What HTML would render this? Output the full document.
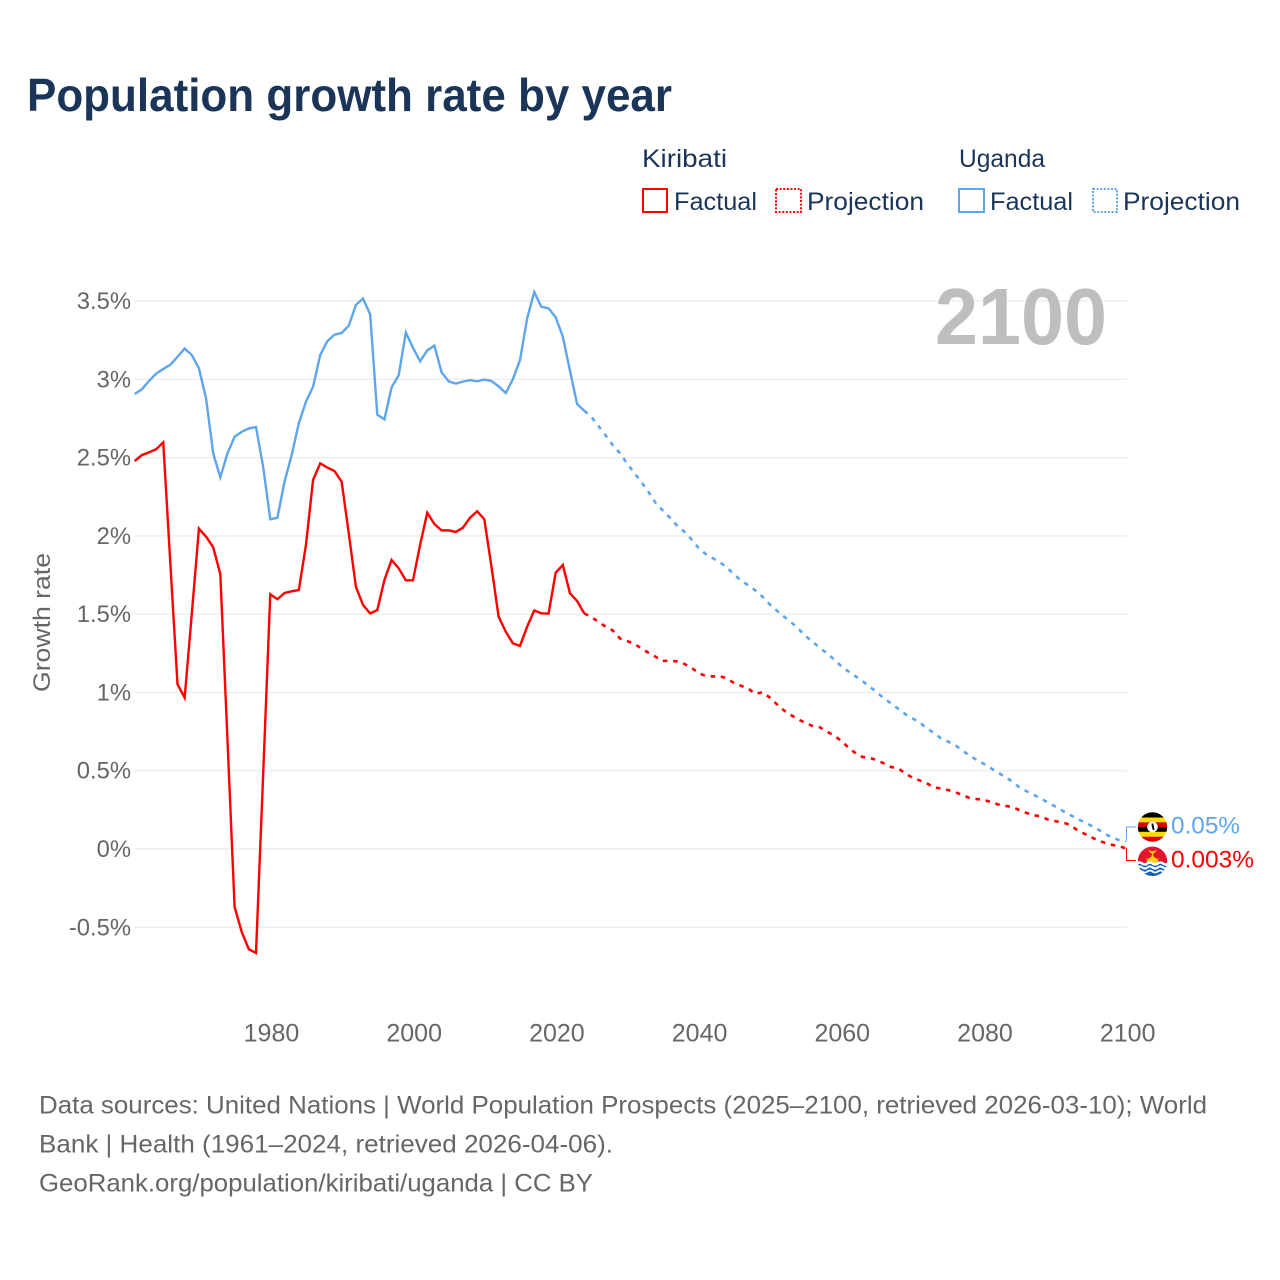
<!DOCTYPE html>
<html lang="en">
<head>
<meta charset="utf-8">
<title>Population growth rate by year</title>
<style>
html,body{margin:0;padding:0;background:#fff;}
svg{display:block;font-family:"Liberation Sans",sans-serif;}
.legend-text{font-size:25px;fill:#1a3557;}
.foot{font-size:25px;fill:#666;}
</style>
</head>
<body>
<svg id="chart" xmlns="http://www.w3.org/2000/svg" width="1280" height="1280" viewBox="0 0 1280 1280">
  <rect x="0" y="0" width="1280" height="1280" fill="#fff"/>
  <text x="27" y="111" font-size="46" font-weight="700" fill="#1a3557" textLength="645" lengthAdjust="spacingAndGlyphs">Population growth rate by year</text>

  <g>
    <text class="legend-text" x="642" y="167" textLength="85" lengthAdjust="spacingAndGlyphs">Kiribati</text>
    <text class="legend-text" x="959" y="167" textLength="86" lengthAdjust="spacingAndGlyphs">Uganda</text>
    <g>
      <rect x="643" y="189" width="24" height="23" fill="none" stroke="#ff0000" stroke-width="2"/>
      <text class="legend-text" x="674" y="210" textLength="83" lengthAdjust="spacingAndGlyphs">Factual</text>
    </g>
    <g>
      <rect x="776" y="189" width="25" height="23" fill="none" stroke="#ff0000" stroke-width="2" stroke-dasharray="2 1.6"/>
      <text class="legend-text" x="807" y="210" textLength="117" lengthAdjust="spacingAndGlyphs">Projection</text>
    </g>
    <g>
      <rect x="959" y="189" width="25" height="23" fill="none" stroke="#5ea5ec" stroke-width="2"/>
      <text class="legend-text" x="990" y="210" textLength="83" lengthAdjust="spacingAndGlyphs">Factual</text>
    </g>
    <g>
      <rect x="1093" y="189" width="24" height="23" fill="none" stroke="#5ea5ec" stroke-width="2" stroke-dasharray="2 1.6"/>
      <text class="legend-text" x="1123" y="210" textLength="117" lengthAdjust="spacingAndGlyphs">Projection</text>
    </g>
  </g>

  <g id="grid"></g>
  <g id="yticks"></g>
  <g id="xticks"></g>

  <text transform="translate(50,622.5) rotate(-90)" text-anchor="middle" font-size="24" fill="#666" textLength="139" lengthAdjust="spacingAndGlyphs">Growth rate</text>
  <text x="935" y="344" font-size="80" font-weight="700" fill="#bebebe" textLength="172" lengthAdjust="spacingAndGlyphs">2100</text>

  <g id="series"></g>

  <path d="M1126.5 840V827H1136" fill="none" stroke="#5ea5ec" stroke-width="1"/>
  <path d="M1126.5 848V860.5H1136" fill="none" stroke="#ff0000" stroke-width="1"/>

  <defs>
    <clipPath id="clipU"><circle cx="1152.5" cy="827" r="14.7"/></clipPath>
    <clipPath id="clipK"><circle cx="1152.5" cy="861.3" r="14.7"/></clipPath>
  </defs>
  <g clip-path="url(#clipU)">
    <rect x="1137" y="812" width="31" height="5.5" fill="#000"/>
    <rect x="1137" y="817.5" width="31" height="4.8" fill="#fcdc04"/>
    <rect x="1137" y="822.3" width="31" height="4.8" fill="#d90000"/>
    <rect x="1137" y="827.1" width="31" height="4.8" fill="#000"/>
    <rect x="1137" y="831.9" width="31" height="4.8" fill="#fcdc04"/>
    <rect x="1137" y="836.7" width="31" height="6" fill="#d90000"/>
    <circle cx="1152.5" cy="827" r="5.3" fill="#fff"/>
    <path d="M1151.5 823.5h1.8l.6 3 .6 3.5h-1.6l-1-3z" fill="#000"/>
  </g>
  <g clip-path="url(#clipK)">
    <rect x="1137" y="846" width="31" height="17" fill="#e3142d"/>
    <rect x="1137" y="863" width="31" height="14" fill="#0f5db5"/>
    <path d="M1146.5 863a6 6 0 0 1 12 0z" fill="#fcd116"/>
    <path d="M1152.5 853.5l1.6 4-1.6 2-1.6-2zM1145.5 858l4 1.6-1 1.4zM1159.5 858l-4 1.6 1 1.4z" fill="#fcd116"/>
    <path d="M1148 850l4.5 1.4 4.5-1.4-2.4 2.8-2.1 1.5-2.1-1.500z" fill="#fcd116"/>
    <path d="M1137 863.5q2.6-2 5.2 0t5.2 0 5.2 0 5.2 0 5.2 0 5.2 0" fill="none" stroke="#fff" stroke-width="2.4"/>
    <path d="M1137 867.5q2.6-2 5.2 0t5.2 0 5.2 0 5.2 0 5.2 0 5.2 0" fill="none" stroke="#fff" stroke-width="2.2"/>
    <path d="M1137 871.5q2.6-2 5.2 0t5.2 0 5.2 0 5.2 0 5.2 0 5.2 0" fill="none" stroke="#fff" stroke-width="1.8"/>
  </g>
  <text x="1171" y="833.5" font-size="24" fill="#5ea5ec" textLength="69" lengthAdjust="spacingAndGlyphs">0.05%</text>
  <text x="1171" y="867.5" font-size="24" fill="#ff0000" textLength="83" lengthAdjust="spacingAndGlyphs">0.003%</text>

  <g>
    <text class="foot" x="39" y="1113.5" textLength="1168" lengthAdjust="spacingAndGlyphs">Data sources: United Nations | World Population Prospects (2025–2100, retrieved 2026-03-10); World</text>
    <text class="foot" x="39" y="1152.5" textLength="574" lengthAdjust="spacingAndGlyphs">Bank | Health (1961–2024, retrieved 2026-04-06).</text>
    <text class="foot" x="39" y="1191.5" textLength="554" lengthAdjust="spacingAndGlyphs">GeoRank.org/population/kiribati/uganda | CC BY</text>
  </g>
</svg>
<script>
const yTickValues = [3.5, 3, 2.5, 2, 1.5, 1, 0.5, 0, -0.5];
const yTickLabels = ['3.5%', '3%', '2.5%', '2%', '1.5%', '1%', '0.5%', '0%', '-0.5%'];
const xTickValues = [1980, 2000, 2020, 2040, 2060, 2080, 2100];
const factualStartYear = 1961;
const projectionStartYear = 2025;
const kiribatiFactual = [
  2.478, 2.516, 2.533, 2.553, 2.597, 1.82, 1.052, 0.966, 1.5, 2.046,
  1.995, 1.927, 1.756, 0.7, -0.37, -0.53, -0.64, -0.664, 0.47, 1.627,
  1.595, 1.635, 1.646, 1.654, 1.942, 2.357, 2.463, 2.436, 2.414, 2.346,
  2.016, 1.675, 1.558, 1.505, 1.526, 1.718, 1.846, 1.793, 1.716, 1.716,
  1.942, 2.148, 2.076, 2.035, 2.035, 2.025, 2.052, 2.116, 2.157, 2.106,
  1.803, 1.484, 1.388, 1.314, 1.297, 1.42, 1.524, 1.505, 1.503, 1.765,
  1.814, 1.633, 1.584, 1.505
];
const ugandaFactual = [
  2.906, 2.936, 2.989, 3.036, 3.066, 3.093, 3.144, 3.196, 3.155, 3.07,
  2.878, 2.527, 2.374, 2.527, 2.633, 2.665, 2.686, 2.695, 2.442, 2.106,
  2.116, 2.346, 2.516, 2.719, 2.857, 2.953, 3.155, 3.244, 3.285, 3.296,
  3.342, 3.475, 3.515, 3.415, 2.774, 2.744, 2.948, 3.027, 3.298, 3.202,
  3.115, 3.185, 3.215, 3.045, 2.987, 2.972, 2.985, 2.995, 2.987, 2.998,
  2.989, 2.955, 2.912, 3.0, 3.123, 3.389, 3.557, 3.463, 3.453, 3.396,
  3.272, 3.055, 2.842, 2.8
];
const kiribatiProjection = [
  1.482, 1.45, 1.42, 1.395, 1.345, 1.329, 1.309, 1.283, 1.253, 1.228,
  1.201, 1.203, 1.198, 1.183, 1.159, 1.124, 1.106, 1.102, 1.104, 1.089,
  1.06, 1.042, 1.024, 0.991, 1.001, 0.968, 0.924, 0.885, 0.855, 0.828,
  0.805, 0.786, 0.778, 0.75, 0.724, 0.693, 0.649, 0.613, 0.588, 0.582,
  0.568, 0.547, 0.524, 0.515, 0.483, 0.455, 0.438, 0.42, 0.393, 0.387,
  0.376, 0.363, 0.344, 0.326, 0.319, 0.314, 0.3, 0.285, 0.275, 0.269,
  0.248, 0.23, 0.216, 0.208, 0.188, 0.178, 0.17, 0.156, 0.124, 0.1,
  0.077, 0.054, 0.039, 0.026, 0.017, 0.003
];
const ugandaProjection = [
  2.76, 2.701, 2.641, 2.579, 2.528, 2.463, 2.403, 2.344, 2.281, 2.211,
  2.163, 2.116, 2.066, 2.028, 1.979, 1.924, 1.885, 1.858, 1.832, 1.798,
  1.754, 1.713, 1.684, 1.651, 1.611, 1.563, 1.522, 1.484, 1.448, 1.408,
  1.361, 1.324, 1.285, 1.252, 1.211, 1.169, 1.135, 1.104, 1.072, 1.037,
  1.001, 0.962, 0.93, 0.896, 0.861, 0.834, 0.808, 0.772, 0.741, 0.707,
  0.686, 0.662, 0.631, 0.595, 0.57, 0.544, 0.516, 0.488, 0.46, 0.431,
  0.393, 0.369, 0.346, 0.323, 0.296, 0.272, 0.245, 0.22, 0.194, 0.174,
  0.15, 0.125, 0.097, 0.072, 0.057, 0.05
];

const NS = 'http://www.w3.org/2000/svg';
function xScale(year) { return 134.7 + (year - 1961) * (1126.5 - 134.7) / (2100 - 1961); }
function yScale(value) { return 849 - value * (849 - 301) / 3.5; }
function buildPath(values, startYear) {
  return values.map(function (v, i) {
    return (i ? 'L' : 'M') + xScale(startYear + i).toFixed(2) + ' ' + yScale(v).toFixed(2);
  }).join('');
}

const gridGroup = document.getElementById('grid');
const yGroup = document.getElementById('yticks');
yTickValues.forEach(function (v, i) {
  const line = document.createElementNS(NS, 'line');
  
  
  line.setAttribute('x1', xScale(1961));
  line.setAttribute('x2', xScale(2100) + 0.5);
  line.setAttribute('y1', yScale(v));
  line.setAttribute('y2', yScale(v));
  line.setAttribute('stroke', '#ebebeb');
  line.setAttribute('stroke-width', '1.2');
  gridGroup.appendChild(line);
  const label = document.createElementNS(NS, 'text');
  
  
  label.setAttribute('x', 131);
  label.setAttribute('y', yScale(v) + 8);
  label.setAttribute('text-anchor', 'end');
  label.setAttribute('font-size', '23.8');
  label.setAttribute('fill', '#666');
  label.textContent = yTickLabels[i];
  yGroup.appendChild(label);
});

const xGroup = document.getElementById('xticks');
xTickValues.forEach(function (year) {
  const label = document.createElementNS(NS, 'text');
  
  
  label.setAttribute('x', xScale(year) + 1.2);
  label.setAttribute('y', 1041.5);
  label.setAttribute('text-anchor', 'middle');
  label.setAttribute('font-size', '25');
  label.setAttribute('fill', '#666');
  label.textContent = String(year);
  xGroup.appendChild(label);
});

const seriesGroup = document.getElementById('series');

const ugandaFactualLine = document.createElementNS(NS, 'path');


ugandaFactualLine.setAttribute('d', buildPath(ugandaFactual, factualStartYear));
ugandaFactualLine.setAttribute('fill', 'none');
ugandaFactualLine.setAttribute('stroke', '#5ea5ec');
ugandaFactualLine.setAttribute('stroke-width', '2.4');
seriesGroup.appendChild(ugandaFactualLine);

const ugandaProjectionLine = document.createElementNS(NS, 'path');


ugandaProjectionLine.setAttribute('d', buildPath([ugandaFactual[ugandaFactual.length - 1]].concat(ugandaProjection), projectionStartYear - 1));
ugandaProjectionLine.setAttribute('fill', 'none');
ugandaProjectionLine.setAttribute('stroke', '#5ea5ec');
ugandaProjectionLine.setAttribute('stroke-width', '2.6');
ugandaProjectionLine.setAttribute('stroke-dasharray', '4.5 5.8');
seriesGroup.appendChild(ugandaProjectionLine);

const kiribatiFactualLine = document.createElementNS(NS, 'path');


kiribatiFactualLine.setAttribute('d', buildPath(kiribatiFactual, factualStartYear));
kiribatiFactualLine.setAttribute('fill', 'none');
kiribatiFactualLine.setAttribute('stroke', '#ff0000');
kiribatiFactualLine.setAttribute('stroke-width', '2.4');
seriesGroup.appendChild(kiribatiFactualLine);

const kiribatiProjectionLine = document.createElementNS(NS, 'path');


kiribatiProjectionLine.setAttribute('d', buildPath([kiribatiFactual[kiribatiFactual.length - 1]].concat(kiribatiProjection), projectionStartYear - 1));
kiribatiProjectionLine.setAttribute('fill', 'none');
kiribatiProjectionLine.setAttribute('stroke', '#ff0000');
kiribatiProjectionLine.setAttribute('stroke-width', '2.6');
kiribatiProjectionLine.setAttribute('stroke-dasharray', '4.5 5.8');
seriesGroup.appendChild(kiribatiProjectionLine);
</script>
</body>
</html>
